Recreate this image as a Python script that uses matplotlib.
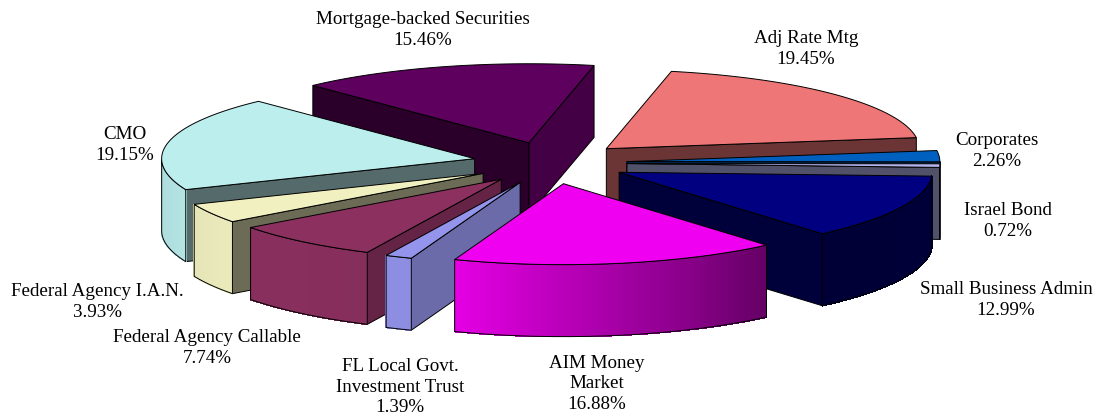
import numpy as np
import matplotlib
matplotlib.use('Agg')
import matplotlib.pyplot as plt
from matplotlib.colors import to_rgb
from matplotlib.collections import PolyCollection

names = ['Adj Rate Mtg', 'Corporates', 'Israel Bond', 'Small Business Admin',
         'AIM Money\nMarket', 'FL Local Govt.\nInvestment Trust', 'Federal Agency Callable',
         'Federal Agency I.A.N.', 'CMO', 'Mortgage-backed Securities']
shares = [19.45, 2.26, 0.72, 12.99, 16.88, 1.39, 7.74, 3.93, 19.15, 15.46]
colors = ['#EE7676', '#0060C0', '#B4B4EC', '#000080', '#F000F0',
          '#9494EC', '#8C3060', '#F0F0C0', '#BCEEEE', '#5E005E']
label_pos = [(806, 49), (997, 151), (1008, 221), (1006, 300), (597, 384),
             (400, 387), (207, 348), (97, 302), (125, 145), (423, 30)]

# pie geometry, in pixels
cx, cy = 550, 163
rx, ry = 313, 80
ex, ey = 77, 21
depth = 72
start = 12


def point(ang, exp_x, exp_y):
    a = np.radians(ang)
    v = -np.cos(a)
    return exp_x + rx * np.sin(a), exp_y + ry * v * (1 + 0.012 * v)


def shade(col, f):
    return tuple(c * f for c in to_rgb(col))


def wall_factor(normal):
    return 0.72 if normal % 360 < 130 else 0.45


def side_factor(ang):
    return np.interp(ang, [90, 140, 200, 230, 270], [0.45, 0.42, 0.95, 0.98, 0.92])


fig = plt.figure(figsize=(10.97, 4.17), dpi=100)
ax = fig.add_axes([0, 0, 1, 1])
ax.set_xlim(0, 1097)
ax.set_ylim(417, 0)
ax.axis('off')

angles = start + np.cumsum([0] + shares) * 360 / sum(shares)
mids = (angles[:-1] + angles[1:]) / 2
order = np.argsort(-np.cos(np.radians(mids)))

for z, i in enumerate(order):
    a, b = angles[i], angles[i + 1]
    m = np.radians(mids[i])
    ox = cx + ex * np.sin(m)
    oy = cy - ey * np.cos(m)
    col = colors[i]
    zo = 2 + z

    # flat cut faces, only the ones turned to the viewer
    for edge, normal, show in [(a, a - 90, np.sin(np.radians(a)) < 0),
                               (b, b + 90, np.sin(np.radians(b)) > 0)]:
        if show:
            x, y = point(edge, ox, oy)
            ax.fill([ox, x, x, ox], [oy, y, y + depth, oy + depth],
                    fc=shade(col, wall_factor(normal)), ec='black', lw=0.7, zorder=zo)

    # rim, drawn as strips so the shading can change along it
    th = np.linspace(a, b, 80)
    th = th[(np.cos(np.radians(th)) <= 0)]
    if len(th) > 1:
        px, py = point(th, ox, oy)
        quads = [[(px[k], py[k]), (px[k + 1], py[k + 1]),
                  (px[k + 1], py[k + 1] + depth), (px[k], py[k] + depth)]
                 for k in range(len(th) - 1)]
        fc = [shade(col, side_factor((th[k] + th[k + 1]) / 2)) for k in range(len(th) - 1)]
        ax.add_collection(PolyCollection(quads, facecolors=fc, edgecolors=fc, linewidths=0.5,
                                         antialiaseds=False, zorder=zo))
        ax.plot(np.r_[px, px[::-1], px[0]], np.r_[py, py[::-1] + depth, py[0]],
                color='black', lw=0.7, zorder=zo)

    # top face
    th = np.linspace(a, b, 80)
    px, py = point(th, ox, oy)
    ax.fill(np.r_[ox, px], np.r_[oy, py], fc=col, ec='black', lw=0.7, zorder=zo)

for i in range(len(names)):
    ax.text(label_pos[i][0], label_pos[i][1], '%s\n%.2f%%' % (names[i], shares[i]),
            ha='center', va='center', family='Liberation Serif', fontsize=13.7,
            linespacing=1.27, color='black', zorder=50)

fig.savefig('out.png', dpi=100)
